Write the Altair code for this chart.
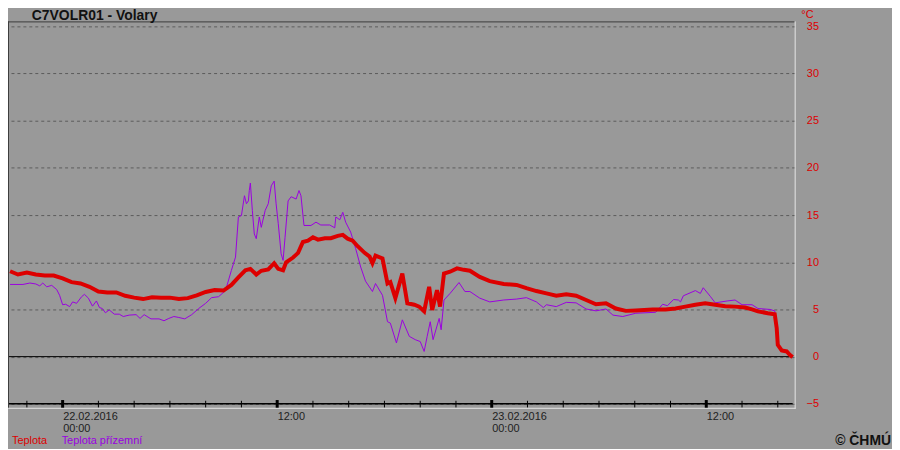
import altair as alt
import pandas as pd

# Time in hours since 22.02.2016 00:00, temperatures in °C
red_hours = [-2.94, -2.5, -2.0, -1.5, -1.0, -0.5, 0.0, 0.5, 1.0, 1.5, 2.0, 2.5, 3.0, 3.5, 4.0, 4.5,
             5.0, 5.5, 6.0, 6.5, 7.0, 7.5, 8.0, 8.5, 9.0, 9.44, 9.83, 10.22, 10.5, 10.83, 11.11,
             11.5, 11.83, 12.06, 12.33, 12.5, 12.89, 13.17, 13.44, 13.72, 14.0, 14.28, 14.67,
             15.0, 15.39, 15.67, 15.94, 16.22, 16.5, 16.89, 17.17, 17.33, 17.5, 17.89, 18.17,
             18.33, 18.61, 19.0, 19.28, 19.67, 19.94, 20.22, 20.5, 20.67, 20.94, 21.11, 21.33,
             21.67, 22.06, 22.44, 22.78, 23.33, 23.89, 24.67, 25.39, 25.94, 26.5, 27.06, 27.61,
             28.17, 28.72, 29.28, 29.83, 30.39, 30.94, 31.5, 32.06, 33.0, 33.72, 34.28, 34.83,
             35.39, 35.94, 36.5, 37.06, 37.61, 38.17, 38.56, 38.89, 39.44, 39.83, 39.94, 40.0,
             40.22, 40.5, 40.67, 40.83]
red_temp = [9.05, 8.7, 8.9, 8.7, 8.6, 8.6, 8.3, 7.9, 7.75, 7.4, 6.9, 6.8, 6.8, 6.45, 6.25, 6.1,
            6.3, 6.25, 6.25, 6.1, 6.2, 6.5, 6.85, 7.05, 7.0, 7.6, 8.4, 9.15, 9.3, 8.7, 9.1,
            9.25, 9.9, 9.3, 9.15, 10.0, 10.5, 11.0, 12.15, 12.3, 12.65, 12.4, 12.55,
            12.55, 12.8, 12.9, 12.5, 12.3, 11.7, 11.0, 10.6, 9.9, 10.7, 10.4, 7.75,
            7.9, 6.2, 8.8, 5.65, 5.5, 5.3, 4.8, 7.4, 4.95, 7.05, 5.3, 8.8,
            9.0, 9.35, 9.2, 9.1, 8.45, 8.0, 7.7, 7.6, 7.25, 6.95, 6.7, 6.45,
            6.6, 6.45, 6.0, 5.55, 5.65, 5.1, 4.85, 4.9, 5.0, 5.0, 5.1, 5.3,
            5.5, 5.65, 5.5, 5.35, 5.3, 5.2, 5.0, 4.8, 4.6, 4.5, 3.0, 1.25,
            0.65, 0.55, 0.2, -0.05]

purple_hours = [-2.94, -2.22, -1.83, -1.5, -1.28, -1.11, -0.89, -0.61, -0.33, -0.17, 0.0, 0.17,
                0.39, 0.56, 0.78, 1.06, 1.22, 1.44, 1.67, 1.89, 2.06, 2.22, 2.39, 2.61, 2.89,
                3.17, 3.39, 3.72, 4.11, 4.33, 4.56, 4.94, 5.39, 5.67, 5.94, 6.22, 6.5, 6.83,
                7.22, 7.61, 8.0, 8.33, 8.72, 9.11, 9.44, 9.67, 9.83, 10.0, 10.17, 10.28, 10.39,
                10.44, 10.5, 10.61, 10.72, 10.83, 11.0, 11.11, 11.33, 11.5, 11.67, 11.83, 11.94,
                12.06, 12.22, 12.33, 12.44, 12.61, 12.78, 13.06, 13.22, 13.33, 13.5, 13.89,
                14.17, 14.44, 14.94, 15.22, 15.28, 15.5, 15.67, 15.83, 16.11, 16.39, 16.67,
                16.94, 17.33, 17.5, 17.89, 18.17, 18.33, 18.67, 19.0, 19.39, 19.72, 20.0, 20.22,
                20.39, 20.56, 20.72, 21.06, 21.17, 21.33, 21.67, 22.17, 22.5, 22.78, 23.33,
                23.89, 24.67, 25.39, 25.94, 26.5, 26.89, 27.06, 27.61, 28.17, 28.72, 29.28,
                29.83, 30.39, 30.78, 31.33, 32.06, 33.17, 33.56, 33.83, 34.17, 34.44, 34.56,
                34.72, 35.39, 35.67, 35.83, 36.22, 36.5, 37.17, 37.61, 38.0, 38.56, 38.89,
                39.56, 39.83, 39.94, 40.06, 40.22, 40.5, 40.67, 40.78]
purple_temp = [7.65, 7.65, 7.8, 7.7, 7.5, 7.8, 7.4, 7.55, 7.1, 6.5, 5.5, 5.55,
               5.3, 5.8, 5.65, 6.35, 6.6, 6.2, 5.35, 5.9, 5.2, 5.1, 4.65, 4.95, 4.5,
               4.5, 4.25, 4.4, 4.45, 4.05, 4.45, 4.0, 4.0, 3.8, 4.05, 4.25, 4.15, 4.0,
               4.45, 5.1, 5.65, 6.25, 6.35, 7.0, 9.15, 10.55, 14.8, 14.95, 17.05, 16.2, 16.5,
               17.6, 18.4, 15.5, 13.0, 12.5, 14.8, 13.7, 15.5, 16.2, 18.1, 18.6, 16.2,
               14.1, 10.9, 10.2, 12.65, 16.5, 16.95, 16.7, 17.6, 17.05, 13.9, 13.9,
               14.25, 13.95, 13.95, 13.65, 14.8, 14.5, 15.3, 14.25, 13.2, 11.45, 9.5,
               8.0, 6.9, 7.75, 6.5, 3.7, 3.55, 1.45, 3.9, 2.15, 1.8, 1.6, 0.55,
               2.15, 3.7, 1.8, 4.05, 2.85, 6.0, 6.7, 7.85, 6.9, 6.9, 6.2,
               5.8, 6.0, 6.1, 6.25, 5.8, 5.2, 5.5, 5.3, 5.75, 5.7, 5.05,
               4.85, 5.05, 4.4, 4.25, 4.6, 4.7, 5.55, 5.4, 6.05, 6.0, 5.8,
               6.45, 7.0, 6.7, 7.3, 6.4, 5.7, 5.9, 6.0, 5.5, 5.5, 5.1,
               5.0, 4.85, 3.0, 1.0, 0.75, 0.5, 0.2, 0.0]

y_ticks = [-5, 0, 5, 10, 15, 20, 25, 30, 35]
minor_ticks = [-2, 2, 4, 6, 8, 10, 14, 16, 18, 20, 22, 26, 28, 30, 32, 34, 38, 40]
major_ticks = [0, 12, 24, 36]

title_text = "C7VOLR01 - Volary"
legend_labels = ["Teplota", "Teplota přízemní"]
unit_text = "°C"
credit_text = "© ČHMÚ"

RED = "#dd0000"
PURPLE = "#9a00e0"
FONT = "Liberation Sans"

W, H = 792, 390
xs = alt.Scale(domain=[-3.056, 40.944], nice=False, zero=False)
ys = alt.Scale(domain=[-5.526, 35.526], nice=False, zero=False)

red_df = pd.DataFrame({"h": red_hours, "t": red_temp})
purple_df = pd.DataFrame({"h": purple_hours, "t": purple_temp})

label_expr = ("datum.value == 0 ? ['22.02.2016', '00:00'] : "
              "datum.value == 24 ? ['23.02.2016', '00:00'] : '12:00'")

purple = alt.Chart(purple_df).mark_line(color=PURPLE, strokeWidth=1).encode(
    x=alt.X("h:Q", scale=xs, title=None,
            axis=alt.Axis(values=major_ticks, labelExpr=label_expr, orient="bottom",
                          domain=False, ticks=False, grid=False, labelAlign="left",
                          labelBaseline="top", labelPadding=2, labelFontSize=11,
                          labelFont=FONT, labelColor="#1e1e1e", labelLineHeight=12,
                          labelFlush=False, labelOverlap=False)),
    y=alt.Y("t:Q", scale=ys, title=None,
            axis=alt.Axis(values=y_ticks, orient="right", domain=False, ticks=False,
                          grid=True, gridDash=[3, 3], gridColor="#5c5c5c", gridWidth=1,
                          labelAlign="right", labelBaseline="middle", labelPadding=24,
                          labelFontSize=11, labelFont=FONT, labelColor=RED,
                          labelOverlap=False, labelFlush=False)),
)

red = alt.Chart(red_df).mark_line(color=RED, strokeWidth=4, strokeJoin="miter").encode(
    x=alt.X("h:Q", scale=xs, title=None),
    y=alt.Y("t:Q", scale=ys, title=None),
)

zero_line = alt.Chart(pd.DataFrame({"v": [0]})).mark_rule(color="#000000", strokeWidth=1).encode(
    y=alt.Y("v:Q", scale=ys, title=None), x=alt.value(1), x2=alt.value(790))
axis_line = alt.Chart(pd.DataFrame({"v": [-5]})).mark_rule(color="#000000", strokeWidth=1.5).encode(
    y=alt.Y("v:Q", scale=ys, title=None), x=alt.value(0), x2=alt.value(790))

minor = alt.Chart(pd.DataFrame({"h": minor_ticks})).mark_rule(color="#000000", strokeWidth=1).encode(
    x=alt.X("h:Q", scale=xs, title=None), y=alt.datum(-4.68), y2=alt.datum(-5.4))
major = alt.Chart(pd.DataFrame({"h": major_ticks})).mark_rule(color="#000000", strokeWidth=3).encode(
    x=alt.X("h:Q", scale=xs, title=None), y=alt.datum(-4.6), y2=alt.datum(-5.45))

frame_top = alt.Chart(pd.DataFrame({"a": [0]})).mark_rule(color="#3c3c3c", strokeWidth=1).encode(
    x=alt.value(0), x2=alt.value(792), y=alt.value(0.5))
frame_left = alt.Chart(pd.DataFrame({"a": [0]})).mark_rule(color="#3c3c3c", strokeWidth=1).encode(
    x=alt.value(0.5), y=alt.value(0), y2=alt.value(390))
frame_right = alt.Chart(pd.DataFrame({"a": [0]})).mark_rule(color="#e6e6e6", strokeWidth=1).encode(
    x=alt.value(792.5), y=alt.value(0), y2=alt.value(390))
frame_bottom = alt.Chart(pd.DataFrame({"a": [0]})).mark_rule(color="#e6e6e6", strokeWidth=1).encode(
    x=alt.value(0), x2=alt.value(793), y=alt.value(389.5))

title = alt.Chart(pd.DataFrame({"s": [title_text]})).mark_text(
    font=FONT, fontSize=14, fontWeight="bold", color="#111111", align="left",
    baseline="alphabetic").encode(text="s:N", x=alt.value(24), y=alt.value(-1))
unit = alt.Chart(pd.DataFrame({"s": [unit_text]})).mark_text(
    font=FONT, fontSize=11, color=RED, align="right", baseline="alphabetic").encode(
    text="s:N", x=alt.value(811), y=alt.value(-3))
leg1 = alt.Chart(pd.DataFrame({"s": [legend_labels[0]]})).mark_text(
    font=FONT, fontSize=11, color=RED, align="left", baseline="alphabetic").encode(
    text="s:N", x=alt.value(4), y=alt.value(425))
leg2 = alt.Chart(pd.DataFrame({"s": [legend_labels[1]]})).mark_text(
    font=FONT, fontSize=11, color=PURPLE, align="left", baseline="alphabetic").encode(
    text="s:N", x=alt.value(54), y=alt.value(425))
credit = alt.Chart(pd.DataFrame({"s": [credit_text]})).mark_text(
    font=FONT, fontSize=14, fontWeight="bold", color="#111111", align="right",
    baseline="alphabetic").encode(text="s:N", x=alt.value(889), y=alt.value(426))

chart = alt.layer(
    purple, zero_line, axis_line, minor, major, red,
    frame_top, frame_left, frame_right, frame_bottom,
    title, unit, leg1, leg2, credit,
).properties(
    width=W, height=H,
    autosize=alt.AutoSizeParams(type="none"),
    padding={"left": 0, "top": 12, "right": 98, "bottom": 39},
    background="#999999",
).configure_view(stroke=None)

chart.save("out.html", embed_options={"renderer": "svg", "actions": False})
